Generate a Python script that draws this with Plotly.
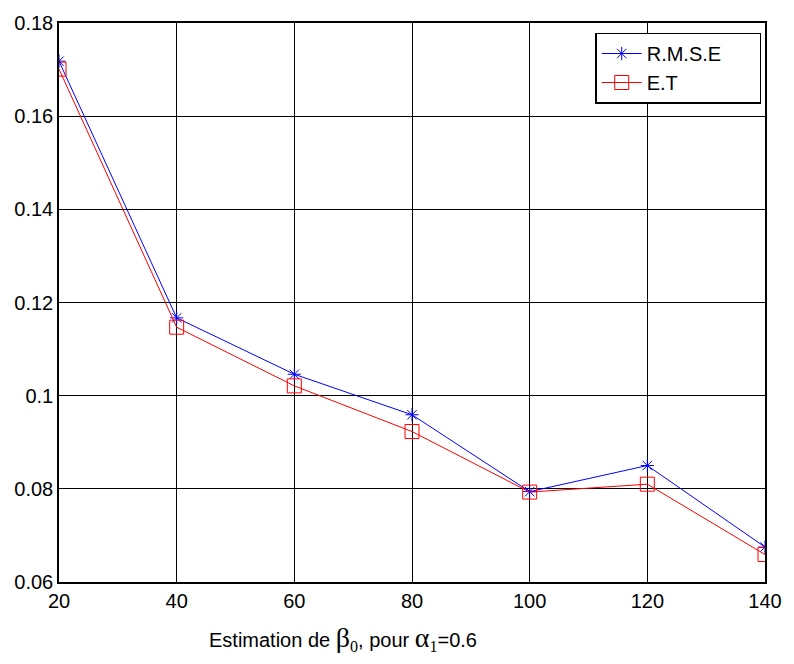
import plotly.graph_objects as go

# Sample sizes and estimated errors for beta_0 (alpha_1 = 0.6)
sample_sizes = [20, 40, 60, 80, 100, 120, 140]
rmse = [0.1718, 0.1167, 0.1046, 0.0959, 0.0794, 0.0850, 0.0675]
et = [0.1701, 0.1147, 0.1021, 0.0923, 0.0793, 0.0810, 0.0659]

x_ticks = [20, 40, 60, 80, 100, 120, 140]
y_ticks = [0.06, 0.08, 0.10, 0.12, 0.14, 0.16, 0.18]
y_tick_text = ["0.06", "0.08", "0.1", "0.12", "0.14", "0.16", "0.18"]

W, H = 794, 664
L, R, T, B = 59, 24, 23, 82

SANS = "Liberation Sans, Arial, sans-serif"
SERIF = "Liberation Serif, Times New Roman, serif"
font = dict(family=SANS, size=20, color="black")

# trailing non-breaking spaces widen the legend box on the right
PAD = "\u00a0" * 6

fig = go.Figure()
fig.add_trace(go.Scatter(
    x=sample_sizes, y=rmse, name="R.M.S.E" + PAD, mode="lines+markers",
    line=dict(color="#0000FF", width=1),
    marker=dict(symbol="asterisk-open", size=11, color="#0000FF",
                line=dict(color="#0000FF", width=1)),
))
fig.add_trace(go.Scatter(
    x=sample_sizes, y=et, name="E.T", mode="lines+markers",
    line=dict(color="#FF0000", width=1),
    marker=dict(symbol="square-open", size=14, color="#FF0000",
                line=dict(color="#FF0000", width=1)),
))

axis_common = dict(
    showline=True, linecolor="black", linewidth=1.5, mirror="ticks",
    ticks="inside", ticklen=5, tickcolor="black",
    showgrid=True, gridcolor="black", gridwidth=1,
    zeroline=False, tickfont=font,
)

fig.update_layout(
    width=W, height=H,
    margin=dict(l=L, r=R, t=T, b=B, pad=0),
    paper_bgcolor="white", plot_bgcolor="white",
    font=font,
    xaxis=dict(range=[20, 140], tickvals=x_ticks, **axis_common),
    yaxis=dict(range=[0.06, 0.18], tickvals=y_ticks, ticktext=y_tick_text,
               **axis_common),
    legend=dict(
        x=(599 - L) / (W - L - R), y=0.983, xanchor="left", yanchor="top",
        bgcolor="white", bordercolor="black", borderwidth=1.5,
        font=dict(family=SANS, size=20, color="black"),
        tracegroupgap=0, itemwidth=40,
    ),
    showlegend=True,
)

label = (
    "Estimation de "
    f"<span style='font-family:{SERIF};font-size:28px'>β</span>"
    f"<span style='font-family:{SERIF};font-size:23px'><sub>0</sub></span>, pour "
    f"<span style='font-family:{SERIF};font-size:28px'>α</span>"
    f"<span style='font-family:{SERIF};font-size:23px'><sub>1</sub></span>=0.6"
)
fig.add_annotation(
    xref="paper", yref="paper",
    x=(345 - L) / (W - L - R), y=-(638 - (H - B)) / (H - T - B),
    xanchor="center", yanchor="middle", showarrow=False,
    text=label, font=dict(family=SANS, size=20, color="black"),
)

fig.write_html("out.html")
